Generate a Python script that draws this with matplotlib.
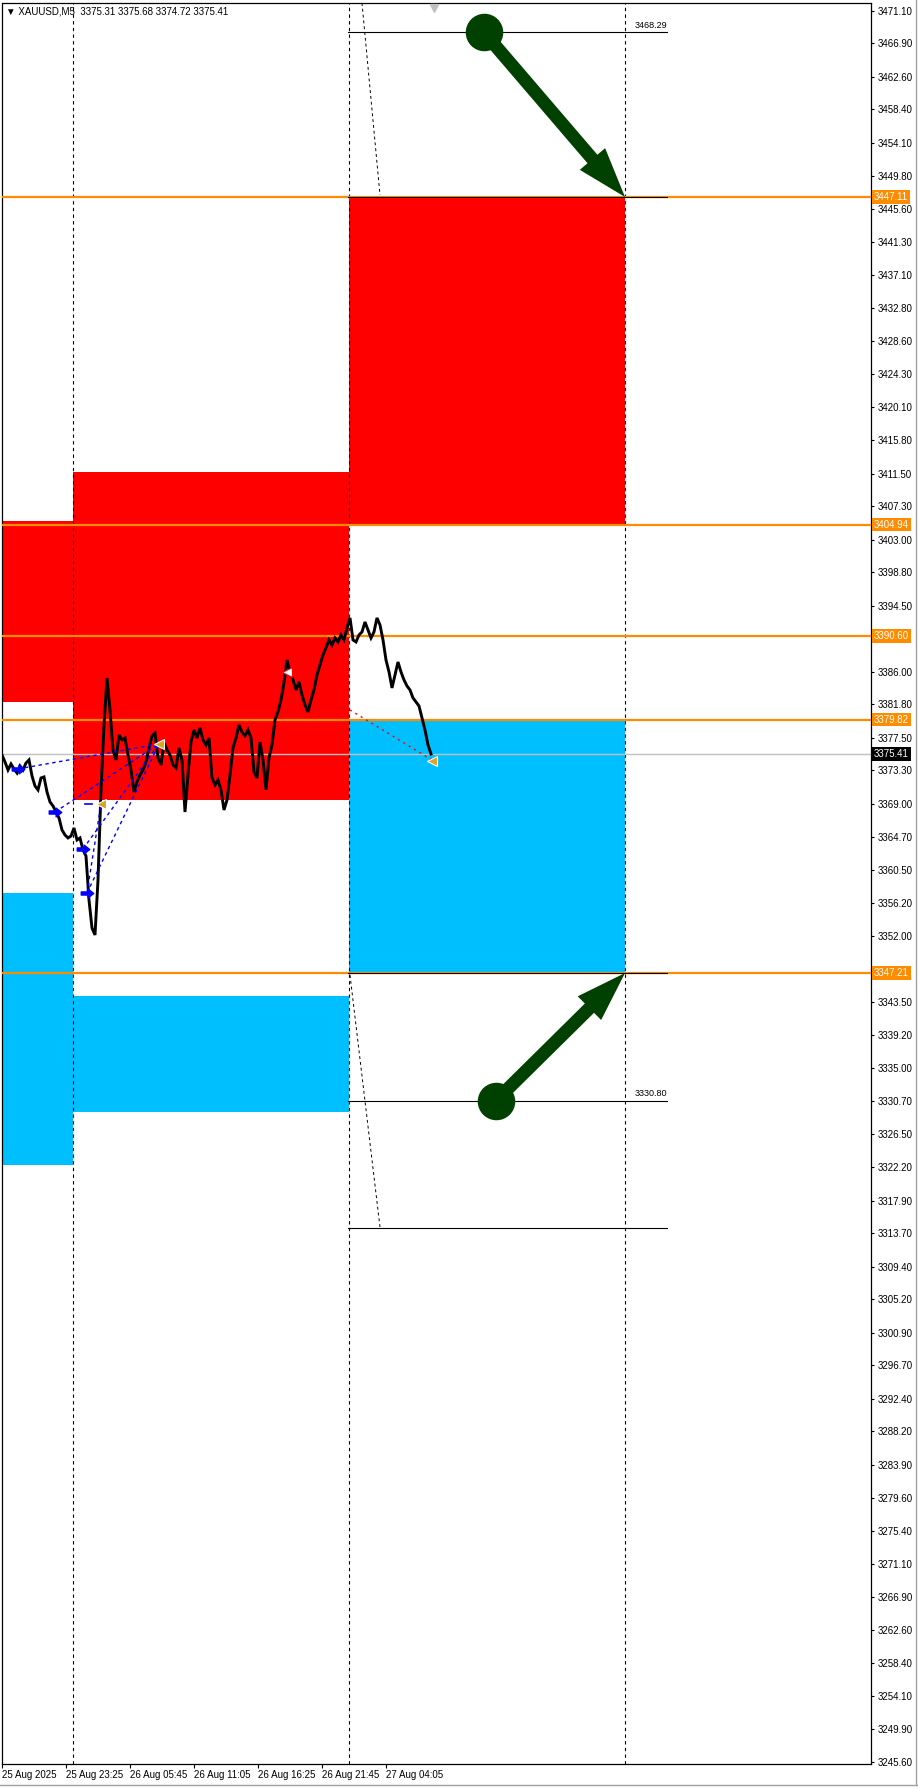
import numpy as np
import matplotlib
matplotlib.use('Agg')
import matplotlib.pyplot as plt
from matplotlib.patches import Rectangle, FancyArrowPatch
from matplotlib.transforms import blended_transform_factory

plt.rcParams['font.family'] = ['Liberation Sans', 'DejaVu Sans']

# ---------------- data ----------------
symbol = "XAUUSD,M5"
ohlc_last = [3375.31, 3375.68, 3374.72, 3375.41]
bar_step = 3  # one sampled close every 3 M5 bars
closes = [
    3375.28, 3374.38, 3373.35, 3374.12, 3373.48, 3372.96, 3373.87, 3373.35, 3374.25, 3374.64,
    3372.58, 3371.29, 3370.78, 3372.32, 3372.45, 3370.52, 3369.23, 3368.72, 3367.94, 3367.17,
    3365.63, 3364.98, 3364.60, 3364.85, 3365.88, 3364.34, 3364.60, 3363.05, 3362.28, 3356.62,
    3353.01, 3352.11, 3359.19, 3370.78, 3379.14, 3385.19, 3381.07, 3375.92, 3374.64, 3377.86,
    3377.21, 3377.47, 3375.28, 3373.35, 3370.52, 3371.81, 3372.71, 3373.35, 3374.38, 3376.18,
    3377.73, 3378.11, 3374.90, 3373.99, 3376.83, 3375.92, 3375.28, 3373.99, 3373.61, 3376.18,
    3374.64, 3367.94, 3372.71, 3376.95, 3378.50, 3377.47, 3378.76, 3377.21, 3376.57, 3377.47,
    3372.32, 3371.42, 3372.06, 3370.78, 3368.20, 3369.49, 3372.71, 3376.18, 3377.47, 3379.14,
    3378.24, 3377.73, 3378.50, 3377.47, 3373.09, 3372.32, 3376.95, 3374.64, 3370.78, 3374.90,
    3376.57, 3379.79, 3380.82, 3382.36, 3384.55, 3387.51, 3385.97, 3384.94, 3383.65, 3384.68,
    3383.01, 3381.72, 3380.82, 3382.36, 3383.65, 3385.58, 3386.87, 3388.15, 3389.06, 3390.09,
    3389.44, 3390.34, 3389.83, 3390.73, 3390.09, 3391.63, 3392.92, 3390.09, 3389.83, 3390.73,
    3391.12, 3392.40, 3391.37, 3390.34, 3391.12, 3392.92, 3392.02, 3390.09, 3387.51, 3385.97,
    3383.91, 3385.58, 3387.25, 3385.97, 3384.94, 3384.16, 3383.65, 3382.62, 3382.10, 3381.59,
    3380.04, 3378.50, 3376.57, 3375.41,
]

time_tick_bars = [0, 64, 128, 192, 256, 320, 384]
time_tick_labels = ["25 Aug 2025", "25 Aug 23:25", "26 Aug 05:45", "26 Aug 11:05",
                    "26 Aug 16:25", "26 Aug 21:45", "27 Aug 04:05"]
day_separators = [71, 347, 623]

price_ticks = [3471.10, 3466.90, 3462.60, 3458.40, 3454.10, 3449.80, 3445.60, 3441.30,
               3437.10, 3432.80, 3428.60, 3424.30, 3420.10, 3415.80, 3411.50, 3407.30,
               3403.00, 3398.80, 3394.50, 3390.20, 3386.00, 3381.80, 3377.50, 3373.30,
               3369.00, 3364.70, 3360.50, 3356.20, 3352.00, 3347.70, 3343.50, 3339.20,
               3335.00, 3330.70, 3326.50, 3322.20, 3317.90, 3313.70, 3309.40, 3305.20,
               3300.90, 3296.70, 3292.40, 3288.20, 3283.90, 3279.60, 3275.40, 3271.10,
               3266.90, 3262.60, 3258.40, 3254.10, 3249.90, 3245.60]
hidden_tick_labels = [3390.20, 3347.70]  # covered by level labels in the reference

level_prices = [3447.11, 3404.94, 3390.60, 3379.82, 3347.21]
current_price = 3375.41

zone_x0 = [0, 0, 71, 71, 347, 347]
zone_x1 = [71, 71, 347, 347, 623, 623]
zone_low = [3382.10, 3322.50, 3369.50, 3329.30, 3404.94, 3347.21]
zone_high = [3405.40, 3357.50, 3411.70, 3344.20, 3447.11, 3379.82]
zone_kind = ["supply", "demand", "supply", "demand", "supply", "demand"]

proj_x0, proj_x1 = 346, 665
proj_levels = [3468.29, 3447.11, 3347.21, 3330.80, 3314.40]
proj_labelled = [3468.29, 3330.80]

diag_x0 = [360, 348]
diag_p0 = [3472.08, 3346.95]
diag_x1 = [378, 378]
diag_p1 = [3447.36, 3314.50]

buy_bars = [16, 53, 81, 85]
buy_prices = [3373.48, 3367.94, 3363.18, 3357.52]
close_bars = [157, 99, 430]
close_prices = [3376.70, 3368.98, 3374.51]
trade_open = [0, 1, 2, 3, 3]
trade_close = [0, 0, 0, 0, 1]

sell_line_bars = [348, 430]
sell_line_prices = [3381.07, 3374.64]
white_mark_bar, white_mark_price = 285, 3385.97

arrow_start_bars = [482, 494]
arrow_start_prices = [3468.29, 3330.80]
arrow_end_bars = [623, 623]
arrow_end_prices = [3447.11, 3347.21]

# ---------------- figure ----------------
W, H = 918, 1789
fig = plt.figure(figsize=(W / 100, H / 100), dpi=100, facecolor='white')
ax = fig.add_axes([2 / W, (H - 1764) / H, 869 / W, 1761 / H])
ax.set_xlim(0, 869)
ax.set_ylim(3245.39, 3472.08)
ax.set_facecolor('white')

RED = '#FF0000'
BLUE = '#00BFFF'
ORANGE = '#FF8C00'
GREEN = '#004000'

for x0, x1, lo, hi, kind in zip(zone_x0, zone_x1, zone_low, zone_high, zone_kind):
    ax.add_patch(Rectangle((x0, lo), x1 - x0, hi - lo,
                           facecolor=RED if kind == "supply" else BLUE,
                           edgecolor='none', zorder=1))

# day separators
for xs in day_separators:
    ax.axvline(xs, color='black', lw=0.8, ls=(0, (3, 3)), zorder=2)

# current price line
ax.axhline(current_price, color='#c0c0c0', lw=1.0, zorder=2)

# orange levels
for lp in level_prices:
    ax.axhline(lp, color=ORANGE, lw=1.6, zorder=3)

# projection lines
for lv in proj_levels:
    ax.plot([proj_x0, proj_x1], [lv, lv], color='black', lw=0.8, zorder=4)
for lv in proj_labelled:
    ax.annotate(f"{lv:.2f}", (proj_x1, lv), xytext=(0, 1.5), textcoords='offset points',
                ha='right', va='bottom', fontsize=6.5, color='black', zorder=5)

for a, b, c, d in zip(diag_x0, diag_p0, diag_x1, diag_p1):
    ax.plot([a, c], [b, d], color='black', lw=0.7, ls=(0, (3, 3)), zorder=4)

# price series
xb = np.arange(len(closes)) * bar_step
ax.plot(xb, closes, color='black', lw=2.1, zorder=6, solid_joinstyle='miter')

# trade history lines
for o, c in zip(trade_open, trade_close):
    ax.plot([buy_bars[o], close_bars[c]], [buy_prices[o], close_prices[c]],
            color='blue', lw=1.0, ls=(0, (2.5, 2.5)), zorder=7)
ax.plot([close_bars[1] - 16, close_bars[1] - 9], [close_prices[1], close_prices[1]],
        color='blue', lw=1.2, zorder=7)
ax.plot(sell_line_bars, sell_line_prices, color='red', lw=1.0, ls=(0, (1.5, 3)), zorder=7)

arrow_path = matplotlib.path.Path(
    [(-1, -0.25), (0.1, -0.25), (0.1, -0.7), (1, 0), (0.1, 0.7), (0.1, 0.25), (-1, 0.25), (-1, -0.25)],
    [1, 2, 2, 2, 2, 2, 2, 79])
ax.plot(buy_bars, buy_prices, ls='none', marker=arrow_path, ms=9, color='blue',
        mec='blue', zorder=8)
ax.plot(close_bars, close_prices, ls='none', marker='<', ms=7.5, color='#DAA520',
        mec='white', mew=0.8, zorder=8)
ax.plot([white_mark_bar], [white_mark_price], ls='none', marker='<', ms=7, color='white',
        mec='red', mew=0.8, zorder=8)

# green arrows
for xs, ps, xe, pe in zip(arrow_start_bars, arrow_start_prices, arrow_end_bars, arrow_end_prices):
    ax.plot([xs], [ps], marker='o', ms=26, color=GREEN, mec=GREEN, zorder=9)
    arr = FancyArrowPatch((xs, ps), (xe, pe),
                          arrowstyle='simple,head_length=36,head_width=24,tail_width=9.4',
                          mutation_scale=1, color=GREEN, lw=0, shrinkA=0, shrinkB=0, zorder=9)
    ax.add_patch(arr)

# shift marker at top
ax.plot([432], [0.997], transform=blended_transform_factory(ax.transData, ax.transAxes),
        marker='v', ms=6, color='#c0c0c0', ls='none', clip_on=False, zorder=10)

# axes styling
for s in ax.spines.values():
    s.set_color('black')
    s.set_linewidth(0.9)
ax.yaxis.tick_right()
ax.set_yticks(price_ticks)
ax.set_yticklabels(["" if v in hidden_tick_labels else f"{v:.2f}" for v in price_ticks])
ax.tick_params(axis='y', direction='out', length=2.5, width=0.8, pad=2.5, labelsize=7,
               colors='black')
ax.set_xticks(time_tick_bars)
ax.set_xticklabels(time_tick_labels)
ax.tick_params(axis='x', direction='out', length=3, width=0.8, pad=1.5, labelsize=7,
               colors='black')
for lbl in ax.get_xticklabels():
    lbl.set_ha('left')

# price labels on right axis
tr = blended_transform_factory(ax.transAxes, ax.transData)
for lp in level_prices:
    ax.text(1.0035, lp, f"{lp:.2f}", transform=tr, ha='left', va='center', fontsize=7,
            color='white', bbox=dict(boxstyle='square,pad=0.18', fc=ORANGE, ec='none'),
            zorder=20, clip_on=False)
ax.text(1.0035, current_price, f"{current_price:.2f}", transform=tr, ha='left', va='center',
        fontsize=7, color='white', bbox=dict(boxstyle='square,pad=0.18', fc='black', ec='none'),
        zorder=20, clip_on=False)

# header
fig.text(6 / W, 1 - 11.5 / H, "▼ " + symbol + "  " + " ".join(f"{v:.2f}" for v in ohlc_last),
         ha='left', va='center', fontsize=7, color='black')

# window frame bits
fig.add_artist(plt.Line2D([0, 1], [4 / H, 4 / H], color='#a0a0a0', lw=1))
fig.add_artist(plt.Line2D([1 - 2 / W, 1 - 2 / W], [4 / H, 1], color='#a0a0a0', lw=1))

fig.savefig('out.png', dpi=100, facecolor='white')
